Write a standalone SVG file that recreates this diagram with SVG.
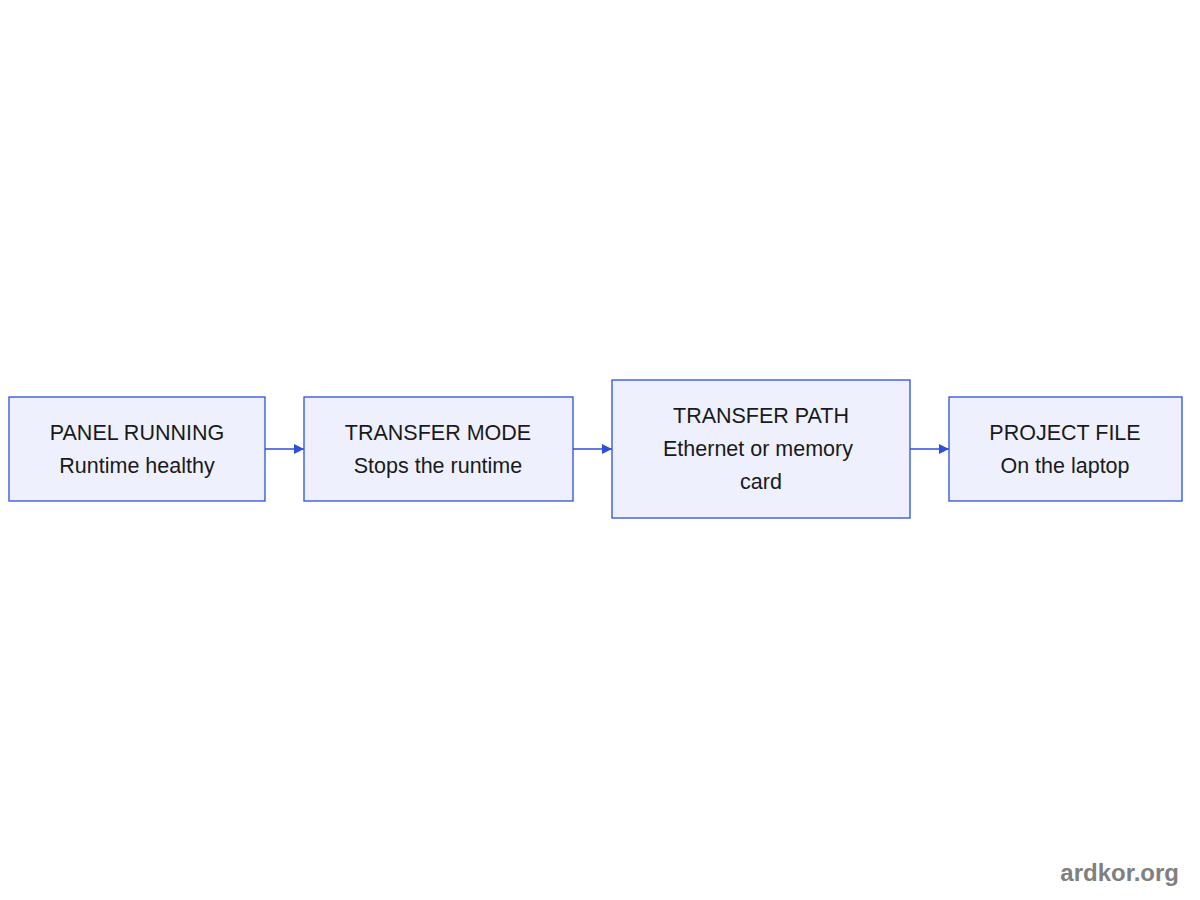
<svg xmlns="http://www.w3.org/2000/svg" width="1200" height="900" viewBox="0 0 1200 900">
<style>
.n{fill:#eef1fd;stroke:#2d4fe0;stroke-width:1.3}
.t{font-family:"Liberation Sans",Arial,sans-serif;font-size:21.5px;fill:#1a1a1a;text-anchor:middle}
.e{stroke:#2d4fe0;stroke-width:1.3;fill:none}
</style>
<defs><marker id="a" viewBox="0 0 10 10" refX="10" refY="5" markerWidth="10" markerHeight="10" markerUnits="userSpaceOnUse" orient="auto"><path d="M0,0L10,5L0,10z" fill="#2d4fe0"/></marker></defs>
<rect width="1200" height="900" fill="#fff"/>
<g id="edges">
<line class="e" x1="265" y1="449" x2="304" y2="449" marker-end="url(#a)"/>
<line class="e" x1="573" y1="449" x2="612" y2="449" marker-end="url(#a)"/>
<line class="e" x1="910" y1="449" x2="949" y2="449" marker-end="url(#a)"/>
</g>
<g id="n1"><rect class="n" x="9" y="397" width="256" height="104"/><text class="t" x="137" y="440">PANEL RUNNING</text><text class="t" x="137" y="473">Runtime healthy</text></g>
<g id="n2"><rect class="n" x="304" y="397" width="269" height="104"/><text class="t" x="438" y="440">TRANSFER MODE</text><text class="t" x="438" y="473">Stops the runtime</text></g>
<g id="n3"><rect class="n" x="612" y="380" width="298" height="138"/><text class="t" x="761" y="423">TRANSFER PATH</text><text class="t" x="758" y="456">Ethernet or memory</text><text class="t" x="761" y="489">card</text></g>
<g id="n4"><rect class="n" x="949" y="397" width="233" height="104"/><text class="t" x="1065" y="440">PROJECT FILE</text><text class="t" x="1065" y="473">On the laptop</text></g>
<text x="1179" y="881" font-family="Liberation Sans,Arial,sans-serif" font-size="24" font-weight="bold" fill="#808080" text-anchor="end">ardkor.org</text>
</svg>
